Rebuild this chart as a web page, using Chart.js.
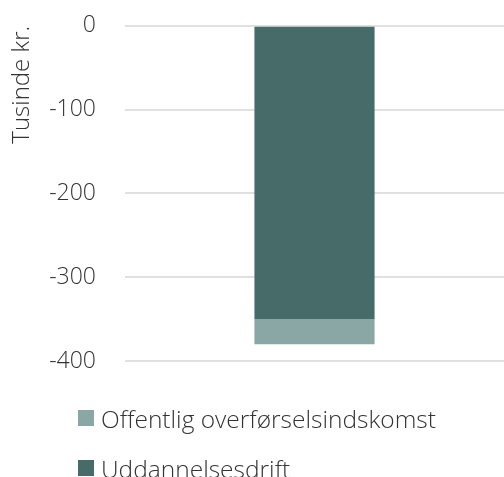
<!DOCTYPE html>
<html>
<head>
<meta charset="utf-8">
<script src="https://cdn.jsdelivr.net/npm/chart.js@4/dist/chart.umd.min.js"></script>
<style>
  html, body { margin: 0; padding: 0; background: #fff; }
  #wrap { position: relative; width: 504px; height: 477px; overflow: hidden; }
  #chart1 { position: absolute; left: 0; top: -17px; }
  #legend { position: absolute; left: 78px; top: 393px; font-family: 'Open Sans', sans-serif; font-weight: 300; font-size: 24.5px; color: #333; }
  #legend .item { display: flex; align-items: center; height: 50px; white-space: nowrap; }
  #legend .box { width: 16px; height: 16px; margin-right: 7px; }
</style>
</head>
<body>
<div id="wrap">
  <canvas id="chart1" width="504" height="494"></canvas>
  <div id="legend"></div>
</div>
<script>
const categories = [''];
const seriesNames = ['Offentlig overførselsindskomst', 'Uddannelsesdrift'];
const offentligValues = [-30];
const uddannelseValues = [-350];
const seriesColors = ['#8ba7a5', '#476b68'];
const yTicks = [0, -100, -200, -300, -400];

document.addEventListener("DOMContentLoaded", function() {
    let chart1 = new Chart(document.getElementById('chart1'), {
        type: 'bar',
        data: {
            labels: categories,
            datasets: [{
                label: seriesNames[1],
                data: uddannelseValues,
                backgroundColor: seriesColors[1],
                borderWidth: 0,
                barPercentage: 0.317,
                categoryPercentage: 1
            }, {
                label: seriesNames[0],
                data: offentligValues,
                backgroundColor: seriesColors[0],
                borderWidth: 0,
                barPercentage: 0.317,
                categoryPercentage: 1
            }]
        },
        options: {
            responsive: false,
            animation: false,
            layout: { padding: { top: 0, bottom: 116, right: 0 } },
            scales: {
                x: { stacked: true, display: false },
                y: {
                    stacked: true,
                    min: Math.min(...yTicks),
                    max: Math.max(...yTicks),
                    ticks: { stepSize: 100, color: '#333', padding: 29, font: { family: 'Open Sans', weight: 300, size: 23 } },
                    afterFit: function(axis) { axis.width = 125; },
                    border: { display: false },
                    grid: { color: '#e0e0e0', lineWidth: 2, drawTicks: false },
                    title: { display: true, text: 'Tusinde kr.', align: 'end', color: '#333', padding: { top: 8, bottom: 0 },
                             font: { family: 'Open Sans', weight: 300, size: 24 } }
                }
            },
            plugins: {
                legend: { display: false },
                tooltip: { enabled: false }
            }
        }
    });

    // legend in reverse dataset order, like the original
    let legend = document.getElementById('legend');
    chart1.data.datasets.slice().reverse().forEach(function(ds) {
        let item = document.createElement('div');
        item.className = 'item';
        item.innerHTML = '<span class="box" style="background:' + ds.backgroundColor + '"></span><span>' + ds.label + '</span>';
        legend.appendChild(item);
    });
});
</script>
</body>
</html>
